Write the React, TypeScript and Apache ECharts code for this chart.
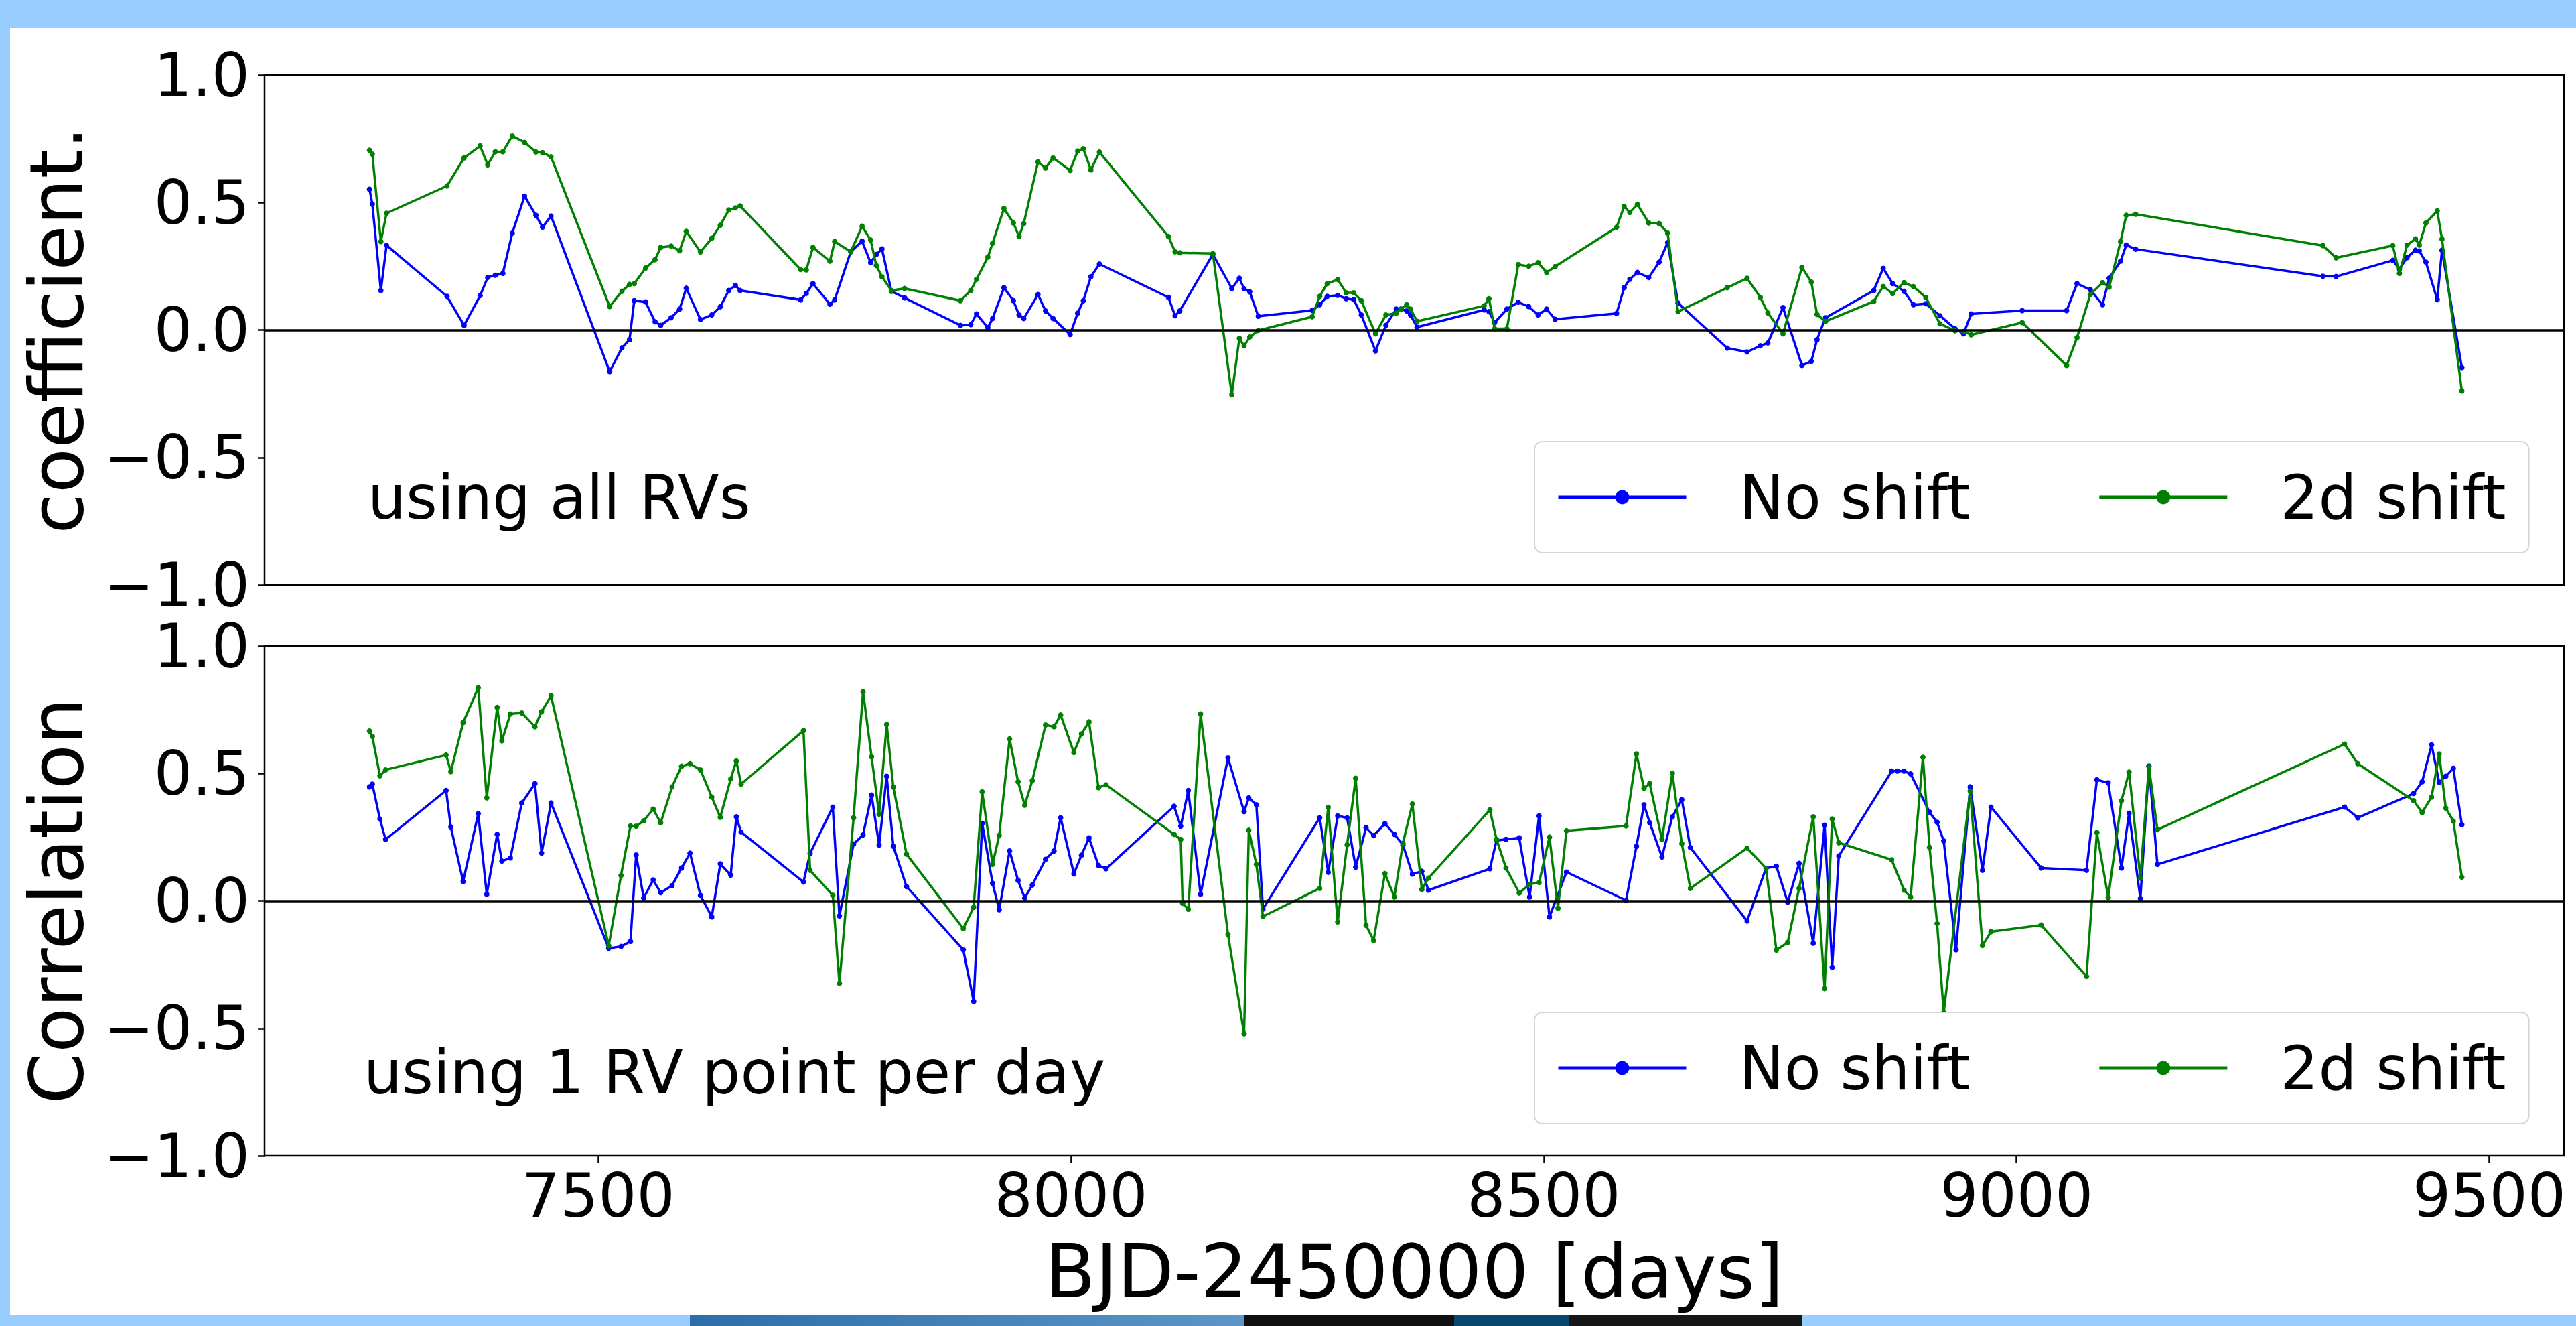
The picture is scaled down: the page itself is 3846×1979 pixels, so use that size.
import React, { useEffect, useRef } from "react";
import * as echarts from "echarts";

// ---- Top panel (using all RVs) ----
const topDays = [
  7258, 7261, 7270, 7276, 7340, 7358, 7375, 7383, 7391, 7399,
  7409, 7422, 7434, 7441, 7450, 7512, 7525, 7533, 7538, 7550,
  7560, 7566, 7577, 7586, 7593, 7608, 7620, 7629, 7638, 7645,
  7650, 7714, 7720, 7727, 7745, 7750, 7767, 7779, 7788, 7794,
  7800, 7810, 7824, 7883, 7894, 7900, 7912, 7917, 7929, 7939,
  7945, 7950, 7965, 7973, 7981, 7999, 8007, 8013, 8021, 8030,
  8103, 8110, 8115, 8150, 8170, 8178, 8183, 8189, 8198, 8255,
  8263, 8271, 8282, 8291, 8299, 8307, 8322, 8333, 8344, 8349,
  8355, 8359, 8366, 8437, 8442, 8448, 8461, 8473, 8484, 8494,
  8503, 8512, 8577, 8585, 8591, 8599, 8611, 8622, 8631, 8642,
  8694, 8715, 8729, 8737, 8753, 8773, 8783, 8789, 8798, 8849,
  8859, 8869, 8881, 8891, 8904, 8919, 8935, 8944, 8952, 9006,
  9053, 9064, 9078, 9091, 9098, 9110, 9116, 9126, 9324, 9338,
  9398, 9405, 9413, 9422, 9426, 9433, 9445, 9450, 9471,
];
const topNoShift = [
  0.552, 0.494, 0.155, 0.332, 0.132, 0.018, 0.135, 0.206, 0.215, 0.222,
  0.38, 0.525, 0.45, 0.403, 0.447, -0.163, -0.07, -0.038, 0.115, 0.11,
  0.032, 0.018, 0.048, 0.082, 0.164, 0.041, 0.059, 0.091, 0.155, 0.175,
  0.155, 0.118, 0.144, 0.182, 0.101, 0.118, 0.307, 0.348, 0.264, 0.296,
  0.318, 0.152, 0.126, 0.018, 0.021, 0.063, 0.009, 0.045, 0.166, 0.115,
  0.059, 0.045, 0.139, 0.075, 0.045, -0.018, 0.066, 0.115, 0.209, 0.259,
  0.128, 0.056, 0.075, 0.297, 0.163, 0.203, 0.162, 0.15, 0.054, 0.077,
  0.099, 0.132, 0.136, 0.123, 0.119, 0.059, -0.082, 0.018, 0.082, 0.082,
  0.075, 0.059, 0.011, 0.079, 0.072, 0.029, 0.082, 0.109, 0.092, 0.059,
  0.082, 0.042, 0.065, 0.166, 0.199, 0.226, 0.206, 0.266, 0.343, 0.106,
  -0.071, -0.086, -0.062, -0.051, 0.088, -0.139, -0.123, -0.038, 0.048, 0.155,
  0.242, 0.182, 0.152, 0.099, 0.103, 0.056, 0.005, -0.015, 0.063, 0.076,
  0.076, 0.182, 0.158, 0.099, 0.203, 0.27, 0.333, 0.317, 0.211, 0.21,
  0.273, 0.239, 0.284, 0.313, 0.31, 0.266, 0.119, 0.313, -0.147,
];
const top2dShift = [
  0.705, 0.69, 0.347, 0.458, 0.565, 0.675, 0.722, 0.648, 0.699, 0.699,
  0.761, 0.736, 0.698, 0.696, 0.679, 0.092, 0.152, 0.179, 0.182, 0.243,
  0.276, 0.324, 0.329, 0.311, 0.387, 0.306, 0.36, 0.411, 0.471, 0.479,
  0.487, 0.237, 0.236, 0.324, 0.27, 0.347, 0.307, 0.407, 0.353, 0.253,
  0.209, 0.155, 0.163, 0.115, 0.155, 0.199, 0.286, 0.34, 0.477, 0.42,
  0.367, 0.418, 0.659, 0.635, 0.675, 0.626, 0.702, 0.711, 0.628, 0.698,
  0.367, 0.307, 0.303, 0.3, -0.254, -0.033, -0.062, -0.028, -0.002, 0.052,
  0.132, 0.182, 0.198, 0.146, 0.146, 0.115, -0.015, 0.059, 0.066, 0.082,
  0.099, 0.082, 0.034, 0.095, 0.123, 0.005, 0.005, 0.257, 0.25, 0.264,
  0.226, 0.249, 0.403, 0.485, 0.461, 0.493, 0.42, 0.418, 0.38, 0.072,
  0.166, 0.203, 0.128, 0.067, -0.015, 0.246, 0.188, 0.061, 0.034, 0.112,
  0.171, 0.143, 0.186, 0.17, 0.128, 0.024, -0.003, -0.006, -0.019, 0.029,
  -0.139, -0.03, 0.139, 0.186, 0.168, 0.347, 0.45, 0.454, 0.331, 0.283,
  0.331, 0.222, 0.333, 0.357, 0.333, 0.42, 0.467, 0.357, -0.239,
];

// ---- Bottom panel (using 1 RV point per day) ----
const botDays = [
  7258, 7261, 7269, 7275, 7339, 7344, 7357, 7373, 7382, 7393,
  7398, 7407, 7419, 7433, 7440, 7450, 7511, 7524, 7534, 7540,
  7548, 7558, 7566, 7578, 7588, 7597, 7608, 7620, 7629, 7640,
  7646, 7651, 7717, 7724, 7748, 7755, 7770, 7780, 7789, 7797,
  7805, 7812, 7826, 7886, 7897, 7906, 7917, 7924, 7935, 7944,
  7951, 7959, 7973, 7982, 7989, 8003, 8011, 8019, 8029, 8037,
  8109, 8116, 8118, 8124, 8137, 8166, 8183, 8188, 8196, 8203,
  8263, 8272, 8282, 8292, 8301, 8312, 8320, 8332, 8342, 8351,
  8361, 8371, 8378, 8443, 8450, 8460, 8474, 8485, 8495, 8506,
  8515, 8524, 8587, 8598, 8606, 8612, 8625, 8636, 8646, 8655,
  8715, 8735, 8746, 8758, 8770, 8785, 8797, 8805, 8812, 8868,
  8874, 8881, 8888, 8901, 8908, 8916, 8923, 8936, 8951, 8964,
  8973, 9026, 9074, 9085, 9097, 9111, 9119, 9131, 9140, 9149,
  9347, 9361, 9420, 9429, 9439, 9447, 9454, 9462, 9471,
];
const botNoShift = [
  0.447, 0.458, 0.321, 0.241, 0.433, 0.29, 0.076, 0.342, 0.026, 0.261,
  0.156, 0.168, 0.384, 0.46, 0.187, 0.384, -0.186, -0.179, -0.159, 0.18,
  0.011, 0.082, 0.032, 0.06, 0.129, 0.187, 0.022, -0.063, 0.145, 0.101,
  0.33, 0.27, 0.074, 0.186, 0.368, -0.059, 0.223, 0.259, 0.415, 0.219,
  0.489, 0.214, 0.056, -0.192, -0.394, 0.304, 0.069, -0.035, 0.196, 0.08,
  0.011, 0.062, 0.163, 0.196, 0.326, 0.106, 0.179, 0.247, 0.139, 0.126,
  0.371, 0.293, null, 0.433, 0.026, 0.561, 0.35, 0.404, 0.377, -0.032,
  0.326, 0.112, 0.333, 0.326, 0.132, 0.287, 0.256, 0.303, 0.261, 0.219,
  0.105, 0.116, 0.042, 0.126, 0.237, 0.241, 0.247, 0.015, 0.333, -0.063,
  null, 0.113, 0.002, 0.214, 0.377, 0.307, 0.172, 0.33, 0.397, 0.209,
  -0.079, 0.128, 0.136, -0.005, 0.147, -0.166, 0.297, -0.26, 0.176, 0.509,
  0.509, 0.509, 0.498, null, 0.348, 0.308, 0.235, -0.192, 0.447, 0.12,
  0.368, 0.129, 0.12, 0.475, 0.463, 0.129, 0.344, 0.009, 0.529, 0.143,
  0.368, 0.326, 0.421, 0.467, 0.612, 0.465, 0.489, 0.52, 0.299,
];
const bot2dShift = [
  0.666, 0.645, 0.491, 0.514, 0.572, 0.507, 0.699, 0.836, 0.404, 0.759,
  0.628, 0.733, 0.737, 0.683, 0.742, 0.804, -0.176, 0.1, 0.294, 0.293,
  0.314, 0.36, 0.306, 0.447, 0.528, 0.538, 0.514, 0.407, 0.328, 0.478,
  0.549, 0.458, 0.668, 0.12, 0.022, -0.323, 0.326, 0.82, 0.565, 0.34,
  0.692, 0.447, 0.183, -0.109, -0.025, 0.428, 0.143, 0.257, 0.635, 0.467,
  0.375, 0.471, 0.69, 0.683, 0.729, 0.582, 0.655, 0.702, 0.444, 0.455,
  0.261, 0.241, -0.01, -0.033, 0.733, -0.132, -0.521, 0.277, 0.143, -0.061,
  0.049, 0.367, -0.083, 0.22, 0.481, -0.096, -0.155, 0.107, 0.015, 0.226,
  0.38, 0.045, 0.089, 0.357, 0.241, 0.129, 0.031, 0.065, 0.072, 0.25,
  -0.029, 0.275, 0.294, 0.576, 0.442, 0.46, 0.241, 0.501, 0.224, 0.049,
  0.207, 0.128, -0.193, -0.163, 0.049, 0.33, -0.344, 0.321, 0.228, 0.161,
  null, 0.042, 0.015, 0.563, 0.21, -0.089, -0.438, null, 0.431, -0.175,
  -0.121, -0.095, -0.296, 0.268, 0.013, 0.393, 0.505, 0.089, 0.527, 0.279,
  0.615, 0.538, 0.393, 0.347, 0.407, 0.576, 0.364, 0.313, 0.093,
];

const xTicks = [7500, 8000, 8500, 9000, 9500];
const seriesNames = ["No shift", "2d shift"];
const panelNotes = ["using all RVs", "using 1 RV point per day"];
const yTitles = ["coefficient.", "Correlation"];
const xTitle = "BJD-2450000 [days]";

const FONT = "DejaVu Sans";
const BLUE = "#0000ff";
const GREEN = "#008000";

function pairs(days: number[], vals: (number | null)[]) {
  const out: number[][] = [];
  days.forEach((d, i) => {
    const v = vals[i];
    if (v !== null && v !== undefined) out.push([d, v]);
  });
  return out;
}

const fmtY = (v: number) => {
  const s = Math.abs(v).toFixed(1);
  return v < 0 ? "\u2212" + s : s;
};
const fmtX = (v: number) => String(Math.round(v));

export default function App() {
  const ref = useRef<HTMLDivElement>(null);
  useEffect(() => {
    if (!ref.current) return;
    const chart = echarts.init(ref.current, undefined, { renderer: "svg" });

    const gridLeft = 395;
    const gridW = 3433;
    const gridH = 761;
    const tops = [112, 964];

    const makeX = (idx: number) => ({
      type: "value",
      gridIndex: idx,
      min: 7147,
      max: 9579,
      axisLine: { show: false, onZero: false },
      axisTick: {
        show: idx === 1,
        customValues: xTicks,
        length: 10,
        lineStyle: { color: "#000", width: 2.5 },
      },
      axisLabel: {
        show: idx === 1,
        customValues: xTicks,
        formatter: fmtX,
        fontSize: 90,
        fontFamily: FONT,
        color: "#000",
        margin: 14,
      },
      splitLine: { show: false },
      name: idx === 1 ? xTitle : "",
      nameLocation: "middle",
      nameGap: 118,
      nameTextStyle: { fontSize: 110, fontFamily: FONT, color: "#000" },
    });

    const makeY = (idx: number) => ({
      type: "value",
      gridIndex: idx,
      min: -1,
      max: 1,
      interval: 0.5,
      axisLine: { show: false, onZero: false },
      axisTick: { show: true, length: 10, lineStyle: { color: "#000", width: 2.5 } },
      axisLabel: {
        fontSize: 90,
        fontFamily: FONT,
        color: "#000",
        margin: 22,
        formatter: fmtY,
        showMinLabel: true,
        showMaxLabel: true,
      },
      splitLine: { show: false },
      name: yTitles[idx],
      nameLocation: "middle",
      nameGap: 255,
      nameTextStyle: { fontSize: 110, fontFamily: FONT, color: "#000" },
    });

    const mkSeries = (name: string, color: string, idx: number, data: number[][], zero: boolean) => ({
      type: "line",
      name,
      xAxisIndex: idx,
      yAxisIndex: idx,
      data,
      symbol: "circle",
      symbolSize: 8,
      showSymbol: true,
      lineStyle: { color, width: 3.5 },
      itemStyle: { color },
      emphasis: { disabled: true },
      silent: true,
      z: name === seriesNames[1] ? 3 : 2,
      markLine: zero
        ? {
            silent: true,
            symbol: ["none", "none"],
            label: { show: false },
            lineStyle: { color: "#000", width: 3.5, type: "solid" },
            emphasis: { disabled: true },
            data: [{ yAxis: 0 }],
          }
        : undefined,
    });

    const legendFor = (top: number) => ({
      left: 2291,
      top,
      orient: "horizontal",
      data: seriesNames,
      itemWidth: 191,
      itemHeight: 26,
      itemGap: 190,
      padding: [38, 34, 38, 33],
      backgroundColor: "#ffffff",
      borderColor: "#d6d6d6",
      borderWidth: 2,
      borderRadius: 12,
      selectedMode: false,
      lineStyle: { width: 5 },
      textStyle: {
        fontSize: 90,
        fontFamily: FONT,
        color: "#000",
        padding: [0, 0, 0, 74],
      },
    });

    const option: any = {
      animation: false,
      backgroundColor: "#99ccff",
      grid: tops.map((t) => ({
        left: gridLeft,
        top: t,
        width: gridW,
        height: gridH,
        show: true,
        backgroundColor: "#ffffff",
        borderColor: "#000",
        borderWidth: 2.5,
        containLabel: false,
        outerBoundsMode: "none",
      })),
      xAxis: [makeX(0), makeX(1)],
      yAxis: [makeY(0), makeY(1)],
      legend: [legendFor(659), legendFor(1511)],
      series: [
        mkSeries(seriesNames[0], BLUE, 0, pairs(topDays, topNoShift), false),
        mkSeries(seriesNames[1], GREEN, 0, pairs(topDays, top2dShift), true),
        mkSeries(seriesNames[0], BLUE, 1, pairs(botDays, botNoShift), false),
        mkSeries(seriesNames[1], GREEN, 1, pairs(botDays, bot2dShift), true),
      ],
      graphic: [
        {
          type: "rect",
          z: -10,
          silent: true,
          shape: { x: 15, y: 42, width: 3831, height: 1921 },
          style: { fill: "#ffffff" },
        },
        {
          type: "rect",
          z: -10,
          silent: true,
          shape: { x: 1030, y: 1963, width: 827, height: 16 },
          style: {
            fill: new echarts.graphic.LinearGradient(0, 0, 1, 0, [
              { offset: 0, color: "#2b6ea9" },
              { offset: 1, color: "#5c96c8" },
            ]),
          },
        },
        {
          type: "rect",
          z: -10,
          silent: true,
          shape: { x: 1857, y: 1963, width: 314, height: 16 },
          style: { fill: "#101010" },
        },
        {
          type: "rect",
          z: -10,
          silent: true,
          shape: { x: 2171, y: 1963, width: 171, height: 16 },
          style: { fill: "#07466d" },
        },
        {
          type: "rect",
          z: -10,
          silent: true,
          shape: { x: 2342, y: 1963, width: 349, height: 16 },
          style: { fill: "#161616" },
        },
        {
          type: "text",
          z: 10,
          silent: true,
          x: 549,
          y: 742,
          style: {
            text: panelNotes[0],
            fontSize: 90,
            fontFamily: FONT,
            fill: "#000",
            verticalAlign: "middle",
          },
        },
        {
          type: "text",
          z: 10,
          silent: true,
          x: 543,
          y: 1600,
          style: {
            text: panelNotes[1],
            fontSize: 90,
            fontFamily: FONT,
            fill: "#000",
            verticalAlign: "middle",
          },
        },
      ],
    };

    chart.setOption(option);
    return () => chart.dispose();
  }, []);

  return (
    <div
      ref={ref}
      style={{ position: "fixed", left: 0, top: 0, width: 3846, height: 1979 }}
    />
  );
}
